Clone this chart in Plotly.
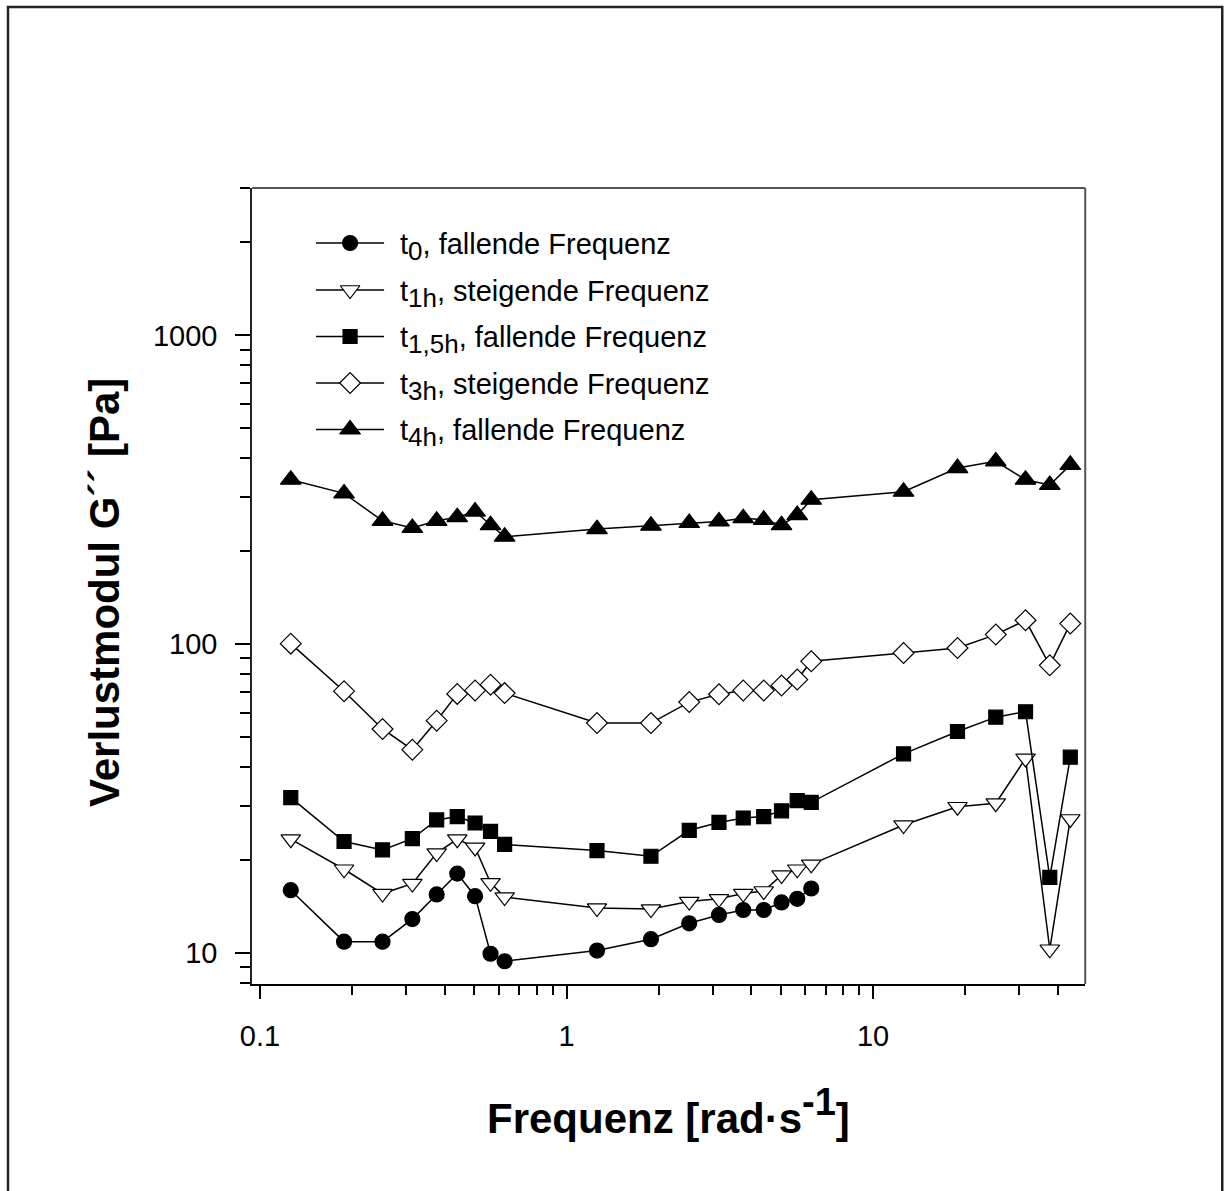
import numpy as np
import plotly.graph_objects as go

# ---------------- data ----------------
freq = [0.126, 0.188, 0.251, 0.314, 0.377, 0.440, 0.503, 0.565, 0.628,
        1.257, 1.885, 2.513, 3.142, 3.770, 4.398, 5.027, 5.655, 6.283,
        12.57, 18.85, 25.13, 31.42, 37.70, 43.98]

g_t0 = [16.0, 10.9, 10.9, 12.9, 15.5, 18.1, 15.3, 9.96, 9.42,
        10.2, 11.1, 12.5, 13.3, 13.8, 13.8, 14.6, 15.0, 16.2]
g_t1h = [23.4, 18.7, 15.6, 16.8, 21.1, 23.4, 22.0, 16.9, 15.2,
         14.0, 13.9, 14.7, 15.0, 15.6, 15.9, 17.9, 18.7, 19.4,
         26.0, 29.8, 30.6, 42.7, 10.3, 27.2]
g_t15h = [31.9, 23.0, 21.6, 23.5, 27.0, 27.7, 26.4, 24.8, 22.5,
          21.5, 20.6, 25.0, 26.5, 27.4, 27.7, 28.9, 31.2, 30.8,
          44.2, 52.2, 58.1, 60.5, 17.6, 43.1]
g_t3h = [100.5, 70.5, 53.2, 45.6, 56.6, 69.1, 70.9, 74.0, 69.5,
         55.6, 55.6, 65.0, 68.9, 70.9, 70.9, 73.6, 76.9, 88.1,
         93.7, 97.3, 107.5, 119.6, 85.5, 116.7]
g_t4h = [341, 308, 251, 238, 251, 258, 269, 243, 223,
         236, 242, 247, 250, 256, 253, 243, 262, 294,
         312, 372, 391, 341, 328, 381]

series_names = ["t0", "t1h", "t1,5h", "t3h", "t4h"]
series_subs = ["0", "1h", "1,5h", "3h", "4h"]
series_texts = [", fallende Frequenz", ", steigende Frequenz", ", fallende Frequenz",
                ", steigende Frequenz", ", fallende Frequenz"]

x_major_ticks = [0.1, 1, 10]
x_tick_labels = ["0.1", "1", "10"]
y_major_ticks = [10, 100, 1000]
y_tick_labels = ["10", "100", "1000"]

# ---------------- styles ----------------
W, H = 1225, 1191
FONT = "Liberation Sans, Arial, Helvetica, sans-serif"
LEG_FS = 29
TITLE_FS = 42

# horizontal placement correction (observed render offset/scale)
OX, SX = 11.0, 0.99


def px(x):
    return (x - OX) / SX / W


def py(y):
    return 1 - y / H


x_title = ("<b>Frequenz [rad·s<sup><span style='font-size:38px'>-1</span></sup>]</b>")
y_title = "<b>Verlustmodul G´´ [Pa]</b>"

styles = [
    dict(symbol="circle", size=15, color="black"),
    dict(symbol="triangle-down", size=17, color="white"),
    dict(symbol="square", size=14, color="black"),
    dict(symbol="diamond", size=16, color="white"),
    dict(symbol="triangle-up", size=18, color="black"),
]
series = [g_t0, g_t1h, g_t15h, g_t3h, g_t4h]

fig = go.Figure()

for vals, st, name in zip(series, styles, series_names):
    fig.add_trace(go.Scatter(
        x=freq[:len(vals)], y=vals, mode="lines+markers", name=name,
        line=dict(color="black", width=1.5),
        marker=dict(symbol=st["symbol"], size=st["size"], color=st["color"],
                    line=dict(color="black", width=1.2)),
        showlegend=False, xaxis="x", yaxis="y"))

# ---------------- manual legend (pixel-fraction overlay axes) ----------------
leg_rows = [243, 290, 336.5, 383, 429.5]
for row, st, sub, txt in zip(leg_rows, styles, series_subs, series_texts):
    fig.add_trace(go.Scatter(
        x=[px(315), px(383)], y=[py(row), py(row)], mode="lines",
        line=dict(color="black", width=1.5), showlegend=False,
        hoverinfo="skip", xaxis="x2", yaxis="y2"))
    fig.add_trace(go.Scatter(
        x=[px(349)], y=[py(row)], mode="markers",
        marker=dict(symbol=st["symbol"], size=st["size"], color=st["color"],
                    line=dict(color="black", width=1.2)),
        showlegend=False, hoverinfo="skip", xaxis="x2", yaxis="y2"))
    label = ("t<sub><span style='font-size:%dpx'>%s</span></sub>%s"
             % (LEG_FS - 3, sub, txt))
    fig.add_annotation(x=px(397), y=py(row + 4), xref="paper", yref="paper",
                       text=label, showarrow=False, xanchor="left", yanchor="middle",
                       font=dict(family=FONT, size=LEG_FS, color="black"))

# ---------------- axes ----------------
x_minor = [v * m for v in (0.1, 1, 10) for m in range(2, 10)]
x_minor = [v for v in x_minor if v < 49]
y_minor = [8, 9] + [v * m for v in (10, 100) for m in range(2, 10)] + [2000, 3000]

fig.update_layout(
    width=W, height=H,
    margin=dict(l=0, r=0, t=0, b=0),
    paper_bgcolor="white", plot_bgcolor="rgba(0,0,0,0)",
    font=dict(family=FONT, color="black"),
    xaxis=dict(
        type="log", domain=[px(251), px(1084)],
        range=[np.log10(0.0942), np.log10(49.2)],
        showgrid=False, zeroline=False,
        showline=True, linecolor="black", linewidth=1.5,
        ticks="outside", ticklen=13, tickwidth=1.8, tickcolor="black",
        tickmode="array", tickvals=x_major_ticks, ticktext=x_tick_labels,
        tickfont=dict(size=29, family=FONT, color="black"),
        ticklabelstandoff=12,
        minor=dict(tickmode="array", tickvals=x_minor, ticks="outside",
                   ticklen=9, tickwidth=1.5, tickcolor="black", showgrid=False),
        anchor="y",
    ),
    yaxis=dict(
        type="log", domain=[1 - 984 / H, 1 - 188 / H],
        range=[np.log10(7.95), np.log10(3000)],
        showgrid=False, zeroline=False,
        showline=True, linecolor="#222", linewidth=1.5,
        ticks="outside", ticklen=15, tickwidth=1.8, tickcolor="black",
        tickmode="array", tickvals=y_major_ticks, ticktext=y_tick_labels,
        tickfont=dict(size=29, family=FONT, color="black"),
        ticklabelstandoff=12,
        minor=dict(tickmode="array", tickvals=y_minor, ticks="outside",
                   ticklen=10, tickwidth=1.5, tickcolor="black", showgrid=False),
        anchor="x",
    ),
    xaxis2=dict(domain=[0, 1], range=[0, 1], visible=False, anchor="y2",
                fixedrange=True),
    yaxis2=dict(domain=[0, 1], range=[0, 1], visible=False, anchor="x2",
                fixedrange=True),
    showlegend=False,
)

# axis titles
fig.add_annotation(x=px(667), y=py(1111), xref="paper", yref="paper",
                   text=x_title, showarrow=False, xanchor="center", yanchor="middle",
                   font=dict(family=FONT, size=TITLE_FS, color="black"))
fig.add_annotation(x=px(103), y=py(593), xref="paper", yref="paper",
                   text=y_title, showarrow=False, xanchor="center", yanchor="middle",
                   textangle=-90, font=dict(family=FONT, size=TITLE_FS, color="black"))

# frame top/right of plot area
fig.add_shape(type="line", xref="paper", yref="paper",
              x0=px(251), x1=px(1084), y0=py(188), y1=py(188),
              line=dict(color="#555", width=2))
fig.add_shape(type="line", xref="paper", yref="paper",
              x0=px(1084), x1=px(1084), y0=py(188), y1=py(984),
              line=dict(color="#555", width=2))
# outer border
fig.add_shape(type="rect", xref="paper", yref="paper",
              x0=px(7), x1=px(1221), y0=py(1196), y1=py(7),
              line=dict(color="#222", width=2.5), fillcolor="rgba(0,0,0,0)")

fig.write_html("out.html")
